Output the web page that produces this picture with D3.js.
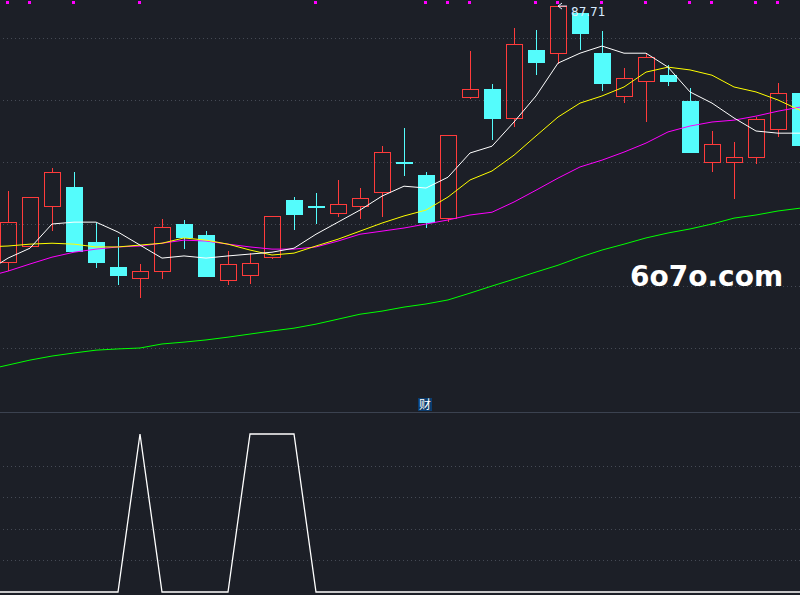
<!DOCTYPE html>
<html>
<head>
<meta charset="utf-8">
<script src="https://cdn.jsdelivr.net/npm/d3@7/dist/d3.min.js"></script>
<style>
  html, body { margin: 0; padding: 0; background: #1c1f27; }
  svg { display: block; }
</style>
</head>
<body>
<svg id="chart" width="800" height="595"></svg>
<script>
'use strict';

// daily bars, left to right (last one is cut by the right edge)
let opens  = [79.45, 79.97, 81.26, 81.87, 80.10, 79.29, 78.94, 79.16, 80.68, 80.32, 78.87, 79.03, 79.61, 81.45, 81.26, 81.03, 81.26, 81.71, 82.68, 82.26, 80.87, 84.77, 85.03, 84.10, 86.29, 86.19, 87.48, 86.19, 84.81, 85.29, 85.48, 84.65, 82.68, 82.68, 82.84, 83.74, 84.90];
let highs  = [81.74, 81.55, 82.48, 82.35, 80.71, 80.26, 79.39, 80.84, 80.81, 80.45, 79.81, 79.74, 80.94, 81.55, 81.68, 82.10, 81.84, 83.19, 83.77, 82.35, 83.55, 86.26, 85.19, 87.00, 86.94, 87.71, 87.48, 86.90, 85.71, 86.19, 85.81, 85.06, 83.68, 83.32, 84.13, 85.23, 85.20];
let lows   = [79.16, 79.97, 80.45, 79.77, 79.26, 78.71, 78.29, 78.90, 79.87, 78.97, 78.71, 78.74, 79.55, 80.48, 80.68, 80.90, 80.84, 80.90, 82.23, 80.55, 80.74, 84.71, 83.39, 83.81, 85.48, 85.84, 86.29, 84.97, 84.58, 83.97, 85.13, 82.97, 82.35, 81.48, 82.61, 83.48, 82.90];
let closes = [80.74, 81.55, 82.35, 79.77, 79.42, 79.00, 79.16, 80.58, 80.23, 78.97, 79.39, 79.42, 80.94, 80.97, 81.26, 81.32, 81.52, 83.00, 82.68, 80.71, 83.55, 85.03, 84.06, 86.48, 85.87, 87.71, 86.81, 85.19, 85.39, 86.06, 85.26, 82.97, 83.26, 82.84, 84.06, 84.90, 83.19];

// moving averages: first value belongs to the bar just left of the frame
let ma5  = [79.13, 79.58, 79.90, 80.68, 80.74, 80.74, 80.42, 80.00, 79.58, 79.65, 79.58, 79.65, 79.71, 79.77, 79.90, 80.35, 80.74, 81.13, 81.58, 81.90, 81.84, 82.19, 82.97, 83.19, 83.97, 84.81, 85.87, 86.19, 86.42, 86.19, 86.19, 85.74, 84.94, 84.58, 84.10, 83.68, 83.61, 83.61];
let ma10 = [79.94, 79.97, 80.03, 80.06, 80.03, 79.94, 79.94, 80.00, 80.06, 80.23, 80.16, 80.03, 79.84, 79.68, 79.74, 79.97, 80.19, 80.45, 80.71, 80.94, 81.13, 81.55, 82.10, 82.39, 82.90, 83.52, 84.13, 84.58, 84.81, 85.10, 85.58, 85.74, 85.65, 85.48, 85.10, 84.94, 84.68, 84.35];
let ma20 = [78.97, 79.16, 79.39, 79.61, 79.77, 79.87, 79.94, 79.97, 80.06, 80.16, 80.13, 80.03, 79.94, 79.87, 79.87, 79.94, 80.13, 80.35, 80.45, 80.55, 80.68, 80.81, 80.97, 81.06, 81.39, 81.77, 82.16, 82.52, 82.74, 83.00, 83.29, 83.65, 83.84, 83.97, 84.03, 84.16, 84.32, 84.45];
let ma60 = [75.97, 76.13, 76.29, 76.42, 76.52, 76.61, 76.65, 76.68, 76.81, 76.87, 76.94, 77.03, 77.13, 77.23, 77.32, 77.45, 77.61, 77.77, 77.87, 78.00, 78.10, 78.23, 78.45, 78.68, 78.90, 79.13, 79.35, 79.61, 79.84, 80.03, 80.23, 80.39, 80.52, 80.68, 80.87, 80.97, 81.10, 81.19];

// lower panel "财" signal, same indexing as the averages
let signal = [0, 0, 0, 0, 0, 0, 0, 1, 0, 0, 0, 0, 1, 1, 1, 0, 0, 0, 0, 0, 0, 0, 0, 0, 0, 0, 0, 0, 0, 0, 0, 0, 0, 0, 0, 0, 0, 0];

// bars that carry a pink dot on the top edge
let markBars = [0, 1, 3, 6, 14, 19, 20, 21, 24, 25, 27, 29, 31, 32, 34, 35];

let priceGrid = [86.68, 84.68, 82.68, 80.68, 78.68, 76.68];
let signalGrid = [0.2, 0.4, 0.6, 0.8];
let highLabel = '87.71';
let panelName = '财';
let watermark = '6o7o.com';

let W = 800, H = 595;
let red = '#ff3b3b', cyan = '#54fcfc';

let svg = d3.select('#chart');
svg.append('rect').attr('width', W).attr('height', H).attr('fill', '#1c1f27');

let x = d3.scaleLinear().domain([0, 36]).range([8, 800]);
let y = d3.scaleLinear().domain([76.68, 86.68]).range([348, 38]);
let ys = d3.scaleLinear().domain([0, 1]).range([592, 434]);
let half = 8;

let px = v => Math.round(v) + 0.5;

// dotted grid
let grid = svg.append('g').attr('shape-rendering', 'crispEdges');
priceGrid.forEach(p => {
    grid.append('line')
        .attr('x1', 3).attr('x2', W)
        .attr('y1', px(y(p))).attr('y2', px(y(p)))
        .attr('stroke', '#454a55').attr('stroke-dasharray', '1,3');
});
signalGrid.forEach(v => {
    grid.append('line')
        .attr('x1', 3).attr('x2', W)
        .attr('y1', px(ys(v))).attr('y2', px(ys(v)))
        .attr('stroke', '#454a55').attr('stroke-dasharray', '1,3');
});

// panel separator
svg.append('line')
    .attr('x1', 0).attr('x2', W).attr('y1', 412.5).attr('y2', 412.5)
    .attr('stroke', '#3b4250').attr('stroke-width', 1);

// candles
let bars = svg.append('g').attr('shape-rendering', 'crispEdges');
for (let i = 0; i < closes.length; ++i) {
    let cx = px(x(i));
    let up = closes[i] > opens[i];
    let top = y(Math.max(opens[i], closes[i]));
    let bot = y(Math.min(opens[i], closes[i]));
    let col = up ? red : cyan;
    if (up) {
        bars.append('line').attr('x1', cx).attr('x2', cx)
            .attr('y1', y(highs[i])).attr('y2', top).attr('stroke', col);
        bars.append('line').attr('x1', cx).attr('x2', cx)
            .attr('y1', bot).attr('y2', y(lows[i])).attr('stroke', col);
        bars.append('rect')
            .attr('x', cx - half).attr('y', px(top))
            .attr('width', half * 2).attr('height', Math.max(1, Math.round(bot - top)))
            .attr('fill', 'none').attr('stroke', col).attr('stroke-width', 1);
    } else {
        bars.append('line').attr('x1', cx).attr('x2', cx)
            .attr('y1', y(highs[i])).attr('y2', y(lows[i])).attr('stroke', col);
        bars.append('rect')
            .attr('x', cx - half - 0.5).attr('y', Math.round(top))
            .attr('width', half * 2 + 1).attr('height', Math.max(2, Math.round(bot - top)))
            .attr('fill', col);
    }
}

// moving averages
let idx = d3.range(-1, 37);
let maLine = d3.line().x((d, k) => x(idx[k])).y(d => y(d));
[[ma60, '#00ff00'], [ma20, '#ff00ff'], [ma10, '#ffff00'], [ma5, '#ffffff']].forEach(([s, c]) => {
    svg.append('path').attr('d', maLine(s))
        .attr('fill', 'none').attr('stroke', c).attr('stroke-width', 1);
});

// pink dots on the top edge
markBars.forEach(i => {
    svg.append('rect')
        .attr('x', Math.round(x(i)) - 2).attr('y', 1)
        .attr('width', 3).attr('height', 3)
        .attr('fill', '#ff00ff');
});

// high marker
let hi = d3.maxIndex(highs);
let hx = x(hi), hy = y(highs[hi]);
svg.append('path')
    .attr('d', `M${hx},${hy} l4,-3 M${hx},${hy} l4,3 M${hx},${hy} h9`)
    .attr('stroke', '#e8f0ff').attr('stroke-width', 1).attr('fill', 'none');
svg.append('text')
    .attr('x', hx + 13).attr('y', hy + 10)
    .attr('fill', '#d8ecff')
    .attr('font-family', 'DejaVu Sans, sans-serif')
    .attr('font-size', 12)
    .text(highLabel);

// signal panel
let sigLine = d3.line().x((d, k) => x(idx[k])).y(d => ys(d));
svg.append('path').attr('d', sigLine(signal))
    .attr('fill', 'none').attr('stroke', '#ffffff').attr('stroke-width', 1.3);

svg.append('rect')
    .attr('x', 418).attr('y', 398).attr('width', 14).attr('height', 13)
    .attr('fill', '#0b3c6e');
svg.append('text')
    .attr('x', 425).attr('y', 409)
    .attr('text-anchor', 'middle')
    .attr('fill', '#ffffff')
    .attr('font-family', 'Noto Sans CJK SC, sans-serif')
    .attr('font-size', 12)
    .text(panelName);

// watermark
svg.append('text')
    .attr('x', 630).attr('y', 286)
    .attr('fill', '#ffffff')
    .attr('font-family', 'DejaVu Sans, sans-serif')
    .attr('font-weight', 'bold')
    .attr('font-size', 28)
    .text(watermark);
</script>
</body>
</html>
